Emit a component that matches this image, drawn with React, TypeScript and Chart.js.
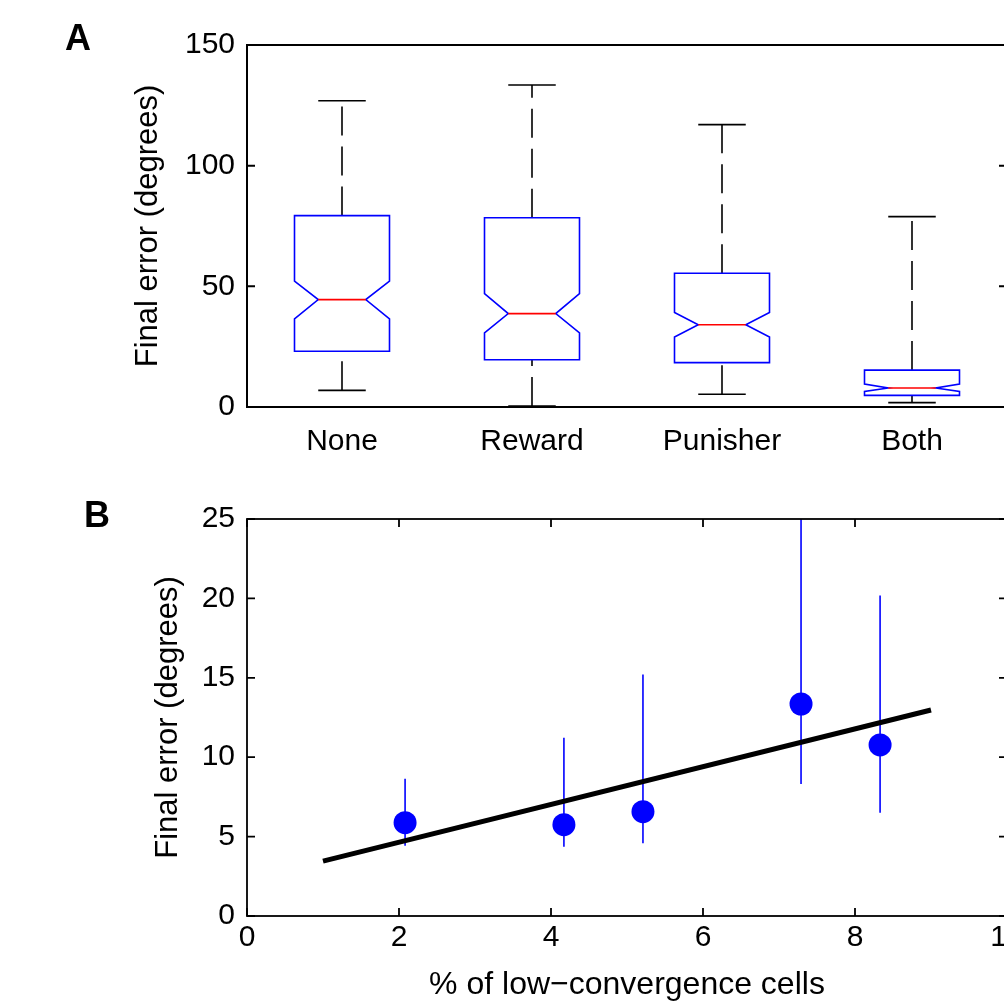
import React, { useEffect, useRef } from "react";
import { Chart, registerables } from "chart.js";

Chart.register(...registerables);

// ---------- Panel A data (notched box plot) ----------
const boxCategories = ["None", "Reward", "Punisher", "Both"];
const whiskerHigh = [126.9, 133.4, 117.0, 78.9];
const q3Values = [79.3, 78.4, 55.4, 15.3];
const notchHigh = [52.2, 47.0, 39.2, 9.5];
const medians = [44.5, 38.7, 34.1, 7.9];
const notchLow = [36.5, 30.7, 29.0, 6.4];
const q1Values = [23.1, 19.6, 18.4, 4.8];
const whiskerLow = [6.9, 0.4, 5.3, 1.8];
const yTicksA = [0, 50, 100, 150];

// ---------- Panel B data (scatter with error bars + fit) ----------
const lowConvPct = [2.08, 4.17, 5.21, 7.29, 8.33];
const meanError = [5.88, 5.75, 6.57, 13.35, 10.77];
const errorLow = [4.43, 4.36, 4.58, 8.31, 6.5];
const errorHigh = [8.65, 11.23, 15.2, 27.0, 20.19];
const fitX = [1, 9];
const fitY = [3.46, 12.97];

const FONT = '"Liberation Sans", Arial, Helvetica, sans-serif';
const BLUE = "#0000ff";
const RED = "#ff0000";
const CANVAS_W = 1040;

function framePlugin(letter: string, lx: number, ly: number, lw: number, xTicks: boolean) {
  return {
    id: "frame" + letter,
    afterDraw(chart: any) {
      const { ctx, chartArea: a, scales } = chart;
      ctx.save();
      ctx.strokeStyle = "#000";
      ctx.lineWidth = lw;
      ctx.strokeRect(a.left, a.top, a.right - a.left, a.bottom - a.top);
      const L = 8;
      ctx.beginPath();
      scales.y.ticks.forEach((t: any) => {
        const py = scales.y.getPixelForValue(t.value);
        ctx.moveTo(a.left, py);
        ctx.lineTo(a.left + L, py);
        ctx.moveTo(a.right, py);
        ctx.lineTo(a.right - L, py);
      });
      if (xTicks) {
        scales.x.ticks.forEach((t: any) => {
          const px = scales.x.getPixelForValue(t.value);
          ctx.moveTo(px, a.bottom);
          ctx.lineTo(px, a.bottom - L);
          ctx.moveTo(px, a.top);
          ctx.lineTo(px, a.top + L);
        });
      }
      ctx.stroke();
      ctx.fillStyle = "#000";
      ctx.font = `bold 36px ${FONT}`;
      ctx.textAlign = "center";
      ctx.textBaseline = "middle";
      ctx.fillText(letter, lx, ly);
      ctx.restore();
    },
  };
}

const boxPlugin = {
  id: "notchedBoxes",
  afterDatasetsDraw(chart: any) {
    const { ctx, scales } = chart;
    const x = scales.x;
    const y = scales.y;
    const unit = x.getPixelForValue(1) - x.getPixelForValue(0);
    const hw = unit * 0.25;
    const nw = unit * 0.125;
    const py = (v: number) => y.getPixelForValue(v);
    ctx.save();
    boxCategories.forEach((_, i) => {
      const cx = x.getPixelForValue(i);
      // whiskers (dashed)
      ctx.strokeStyle = "#000";
      ctx.lineWidth = 1.6;
      ctx.setLineDash([29, 11]);
      ctx.beginPath();
      ctx.moveTo(cx, py(q3Values[i]));
      ctx.lineTo(cx, py(whiskerHigh[i]));
      ctx.stroke();
      ctx.beginPath();
      ctx.moveTo(cx, py(whiskerLow[i]));
      ctx.lineTo(cx, py(q1Values[i]));
      ctx.stroke();
      ctx.setLineDash([]);
      // caps
      ctx.beginPath();
      ctx.moveTo(cx - nw, py(whiskerHigh[i]));
      ctx.lineTo(cx + nw, py(whiskerHigh[i]));
      ctx.moveTo(cx - nw, py(whiskerLow[i]));
      ctx.lineTo(cx + nw, py(whiskerLow[i]));
      ctx.stroke();
      // notched box
      ctx.strokeStyle = BLUE;
      ctx.beginPath();
      ctx.moveTo(cx - hw, py(q1Values[i]));
      ctx.lineTo(cx + hw, py(q1Values[i]));
      ctx.lineTo(cx + hw, py(notchLow[i]));
      ctx.lineTo(cx + nw, py(medians[i]));
      ctx.lineTo(cx + hw, py(notchHigh[i]));
      ctx.lineTo(cx + hw, py(q3Values[i]));
      ctx.lineTo(cx - hw, py(q3Values[i]));
      ctx.lineTo(cx - hw, py(notchHigh[i]));
      ctx.lineTo(cx - nw, py(medians[i]));
      ctx.lineTo(cx - hw, py(notchLow[i]));
      ctx.closePath();
      ctx.stroke();
      // median
      ctx.strokeStyle = RED;
      ctx.beginPath();
      ctx.moveTo(cx - nw, py(medians[i]));
      ctx.lineTo(cx + nw, py(medians[i]));
      ctx.stroke();
    });
    ctx.restore();
  },
};

function PanelA() {
  const ref = useRef<HTMLCanvasElement>(null);
  useEffect(() => {
    const chart = new Chart(ref.current as HTMLCanvasElement, {
      type: "bar",
      data: { labels: boxCategories, datasets: [] },
      options: {
        animation: false,
        responsive: false,
        devicePixelRatio: 1,
        events: [],
        layout: { padding: { left: 130, right: CANVAS_W - 1007, top: 45, bottom: 0 } },
        plugins: { legend: { display: false }, tooltip: { enabled: false } },
        scales: {
          x: {
            type: "category",
            offset: true,
            grid: { display: false, drawTicks: false },
            border: { display: false },
            ticks: { color: "#000", font: { family: FONT, size: 30 }, padding: 17 },
            afterFit: (s: any) => { s.height = 63; },
          },
          y: {
            type: "linear",
            min: 0,
            max: 150,
            afterBuildTicks: (s: any) => { s.ticks = yTicksA.map((v) => ({ value: v })); },
            grid: { display: false, drawTicks: false },
            border: { display: false },
            ticks: { color: "#000", font: { family: FONT, size: 30 }, padding: 12 },
            title: {
              display: true,
              text: "Final error (degrees)",
              color: "#000",
              font: { family: FONT, size: 31 },
              padding: 0,
            },
            afterFit: (s: any) => { s.width = 117; },
          },
        },
      } as any,
      plugins: [boxPlugin, framePlugin("A", 78, 40, 2, false)],
    });
    return () => chart.destroy();
  }, []);
  return (
    <canvas
      ref={ref}
      width={CANVAS_W}
      height={470}
      style={{ position: "absolute", left: 0, top: 0, width: CANVAS_W, height: 470 }}
    />
  );
}

function PanelB() {
  const ref = useRef<HTMLCanvasElement>(null);
  useEffect(() => {
    const errorBarSets = lowConvPct.map((xv, i) => ({
      type: "line",
      data: [
        { x: xv, y: errorLow[i] },
        { x: xv, y: errorHigh[i] },
      ],
      showLine: true,
      borderColor: BLUE,
      borderWidth: 1.6,
      pointRadius: 0,
      order: 3,
    }));
    const chart = new Chart(ref.current as HTMLCanvasElement, {
      type: "scatter",
      data: {
        datasets: [
          {
            type: "scatter",
            data: lowConvPct.map((xv, i) => ({ x: xv, y: meanError[i] })),
            backgroundColor: BLUE,
            borderWidth: 0,
            pointRadius: 11.5,
            order: 0,
          },
          {
            type: "line",
            data: fitX.map((xv, i) => ({ x: xv, y: fitY[i] })),
            showLine: true,
            borderColor: "#000",
            borderWidth: 5,
            borderCapStyle: "butt",
            pointRadius: 0,
            order: 1,
          },
          ...errorBarSets,
        ],
      },
      options: {
        animation: false,
        responsive: false,
        devicePixelRatio: 1,
        events: [],
        layout: { padding: { left: 150, right: CANVAS_W - 1007, top: 49, bottom: 0 } },
        plugins: { legend: { display: false }, tooltip: { enabled: false } },
        scales: {
          x: {
            type: "linear",
            min: 0,
            max: 10,
            ticks: { stepSize: 2, color: "#000", font: { family: FONT, size: 30 }, padding: 4 },
            grid: { display: false, drawTicks: false },
            border: { display: false },
            title: {
              display: true,
              text: "% of low\u2212convergence cells",
              color: "#000",
              font: { family: FONT, size: 32 },
              padding: 0,
            },
            afterFit: (s: any) => { s.height = 88; },
          },
          y: {
            type: "linear",
            min: 0,
            max: 25,
            ticks: { stepSize: 5, color: "#000", font: { family: FONT, size: 30 }, padding: 12 },
            grid: { display: false, drawTicks: false },
            border: { display: false },
            title: {
              display: true,
              text: "Final error (degrees)",
              color: "#000",
              font: { family: FONT, size: 31 },
              padding: 0,
            },
            afterFit: (s: any) => { s.width = 97; },
          },
        },
      } as any,
      plugins: [framePlugin("B", 97, 47, 1.8, true)],
    });
    return () => chart.destroy();
  }, []);
  return (
    <canvas
      ref={ref}
      width={CANVAS_W}
      height={534}
      style={{ position: "absolute", left: 0, top: 470, width: CANVAS_W, height: 534 }}
    />
  );
}

export default function App() {
  return (
    <div
      style={{
        position: "absolute",
        left: 0,
        top: 0,
        width: 1004,
        height: 1004,
        overflow: "hidden",
        background: "#fff",
      }}
    >
      <PanelA />
      <PanelB />
    </div>
  );
}
